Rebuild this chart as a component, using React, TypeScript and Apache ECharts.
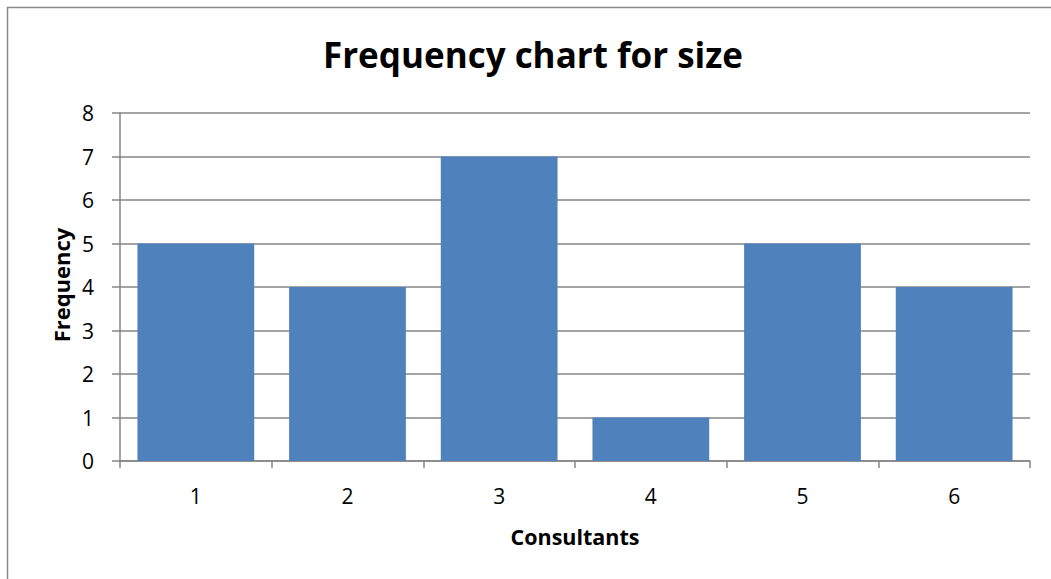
import React, { useEffect, useRef } from "react";
import * as echarts from "echarts";

const categories = ["1", "2", "3", "4", "5", "6"];
const frequencies = [5, 4, 7, 1, 5, 4];
const titleText = "Frequency chart for size";
const xName = "Consultants";
const yName = "Frequency";

export default function App() {
  const ref = useRef<HTMLDivElement>(null);
  useEffect(() => {
    const chart = echarts.init(ref.current!, null, { renderer: "svg" });
    const font = "'Open Sans', 'Noto Sans', sans-serif";
    chart.setOption({
      animation: false,
      backgroundColor: "#ffffff",
      title: {
        text: titleText,
        left: 528,
        top: 32,
        textAlign: "center",
        textStyle: { fontFamily: font, fontWeight: "bold", fontSize: 35, color: "#000" },
      },
      graphic: [
        {
          type: "rect",
          shape: { x: 7.5, y: 7.5, width: 1100, height: 600 },
          style: { fill: "none", stroke: "#8a8a8a", lineWidth: 1.5 },
          silent: true,
        },
        {
          type: "text",
          x: 61,
          y: 285,
          rotation: Math.PI / 2,
          style: {
            text: yName,
            fontFamily: font,
            fontWeight: "bold",
            fontSize: 22,
            fill: "#000",
            align: "center",
            verticalAlign: "middle",
          },
        },
      ],
      grid: { left: 120, right: 21, top: 113, bottom: 118, containLabel: false },
      xAxis: {
        type: "category",
        data: categories,
        name: xName,
        nameLocation: "middle",
        nameGap: 64,
        nameTextStyle: { fontFamily: font, fontWeight: "bold", fontSize: 21.5, color: "#000" },
        axisLine: { lineStyle: { color: "#868686", width: 1.5 } },
        axisTick: { show: true, length: 7, alignWithLabel: false, lineStyle: { color: "#868686", width: 1.5 } },
        axisLabel: { fontFamily: font, fontSize: 21, color: "#000", margin: 24 },
      },
      yAxis: {
        type: "value",
        min: 0,
        max: 8,
        interval: 1,
        axisLine: { show: true, lineStyle: { color: "#868686", width: 1.5 } },
        axisTick: { show: true, length: 8, lineStyle: { color: "#868686", width: 1.5 } },
        axisLabel: { fontFamily: font, fontSize: 21, color: "#000", margin: 26 },
        splitLine: { show: true, lineStyle: { color: "#868686", width: 1.5 } },
      },
      series: [
        {
          type: "bar",
          data: frequencies,
          barCategoryGap: "23%",
          itemStyle: { color: "#4F81BD" },
        },
      ],
    });
    return () => chart.dispose();
  }, []);
  return (
    <div
      ref={ref}
      style={{ position: "absolute", left: 0, top: 0, width: 1051, height: 579 }}
    />
  );
}
